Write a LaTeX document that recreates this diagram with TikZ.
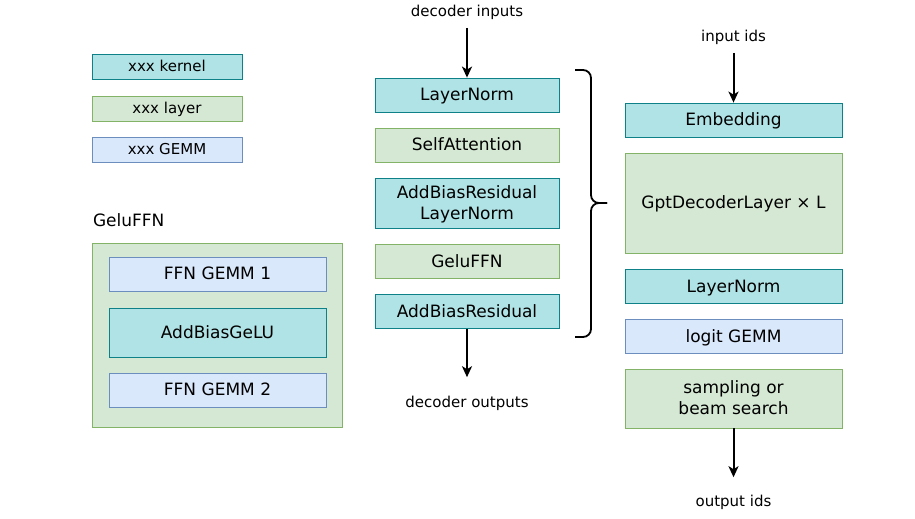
\documentclass[tikz,border=0pt]{standalone}
\usepackage{fontspec}
\setmainfont{DejaVu Sans}
\usepackage{tikz}
\usetikzlibrary{arrows.meta}

\definecolor{kernelfill}{HTML}{B0E3E6}
\definecolor{kerneldraw}{HTML}{0E8088}
\definecolor{layerfill}{HTML}{D5E8D4}
\definecolor{layerdraw}{HTML}{82B366}
\definecolor{gemmfill}{HTML}{DAE8FC}
\definecolor{gemmdraw}{HTML}{6C8EBF}

\begin{document}
\begin{tikzpicture}[x=1pt, y=-1pt,
    box/.style={draw, line width=0.8pt, inner sep=0pt, align=center,
        text depth=1pt, font=\fontsize{17}{21}\selectfont},
    kernel/.style={box, fill=kernelfill, draw=kerneldraw},
    layer/.style={box, fill=layerfill, draw=layerdraw},
    gemm/.style={box, fill=gemmfill, draw=gemmdraw},
    legend/.style={minimum width=150pt, minimum height=25pt,
        font=\fontsize{15}{18}\selectfont},
    mid/.style={minimum width=184pt, minimum height=34pt},
    rgt/.style={minimum width=217pt, minimum height=34pt},
    lbl/.style={font=\fontsize{15}{18}\selectfont},
    arr/.style={-{Stealth[length=11pt, width=10pt, inset=3pt]}, line width=2pt}]
    \useasboundingbox (0,0) rectangle (915,519);

    % Legend
    \node[kernel, legend] (Lk) at (167,66.5) {xxx kernel};
    \node[layer, legend] (Ll) at (167,108.5) {xxx layer};
    \node[gemm, legend] (Lg) at (167,149.5) {xxx GEMM};

    % GeluFFN detail
    \node[anchor=west, font=\fontsize{17}{21}\selectfont] (Ftitle) at (89.5,220) {GeluFFN};
    \node[layer, minimum width=250pt, minimum height=184pt] (F0) at (217,335) {};
    \node[gemm, minimum width=217pt, minimum height=34pt] (F1) at (217.5,274) {FFN GEMM 1};
    \node[kernel, minimum width=217pt, minimum height=49pt] (F2) at (217.5,332.5) {AddBiasGeLU};
    \node[gemm, minimum width=217pt, minimum height=34pt] (F3) at (217.5,390) {FFN GEMM 2};

    % Decoder layer
    \node[lbl] (Din) at (467,12) {decoder inputs};
    \node[kernel, mid] (D1) at (467,95) {LayerNorm};
    \node[layer, mid] (D2) at (467,145) {SelfAttention};
    \node[kernel, mid, minimum height=50pt] (D3) at (467,203) {AddBiasResidual\\LayerNorm};
    \node[layer, mid] (D4) at (467,261.5) {GeluFFN};
    \node[kernel, mid] (D5) at (467,311.5) {AddBiasResidual};
    \node[lbl] (Dout) at (467,403) {decoder outputs};

    % GPT model
    \node[lbl] (Gin) at (733.5,37) {input ids};
    \node[kernel, rgt] (G1) at (733.5,120) {Embedding};
    \node[layer, rgt, minimum height=100pt] (G2) at (733.5,203) {GptDecoderLayer × L};
    \node[kernel, rgt] (G3) at (733.5,286.5) {LayerNorm};
    \node[gemm, rgt] (G4) at (733.5,336.5) {logit GEMM};
    \node[layer, rgt, minimum height=59pt] (G5) at (733.5,398.5) {sampling or\\beam search};
    \node[lbl] (Gout) at (733.5,502) {output ids};

    % Draw arrows
    \draw[arr, shorten <=5pt] (Din) -- (D1);
    \draw[arr, shorten >=15pt] (D5) -- (Dout);
    \draw[arr, shorten <=5pt] (Gin) -- (G1);
    \draw[arr, shorten >=14pt] (G5) -- (Gout);

    % Brace
    \draw[line width=1.8pt, rounded corners=8pt] (575,70) -- (591,70) -- (591,203) -- (607,203);
    \draw[line width=1.8pt, rounded corners=8pt] (575,337) -- (591,337) -- (591,203) -- (607,203);
\end{tikzpicture}
\end{document}
